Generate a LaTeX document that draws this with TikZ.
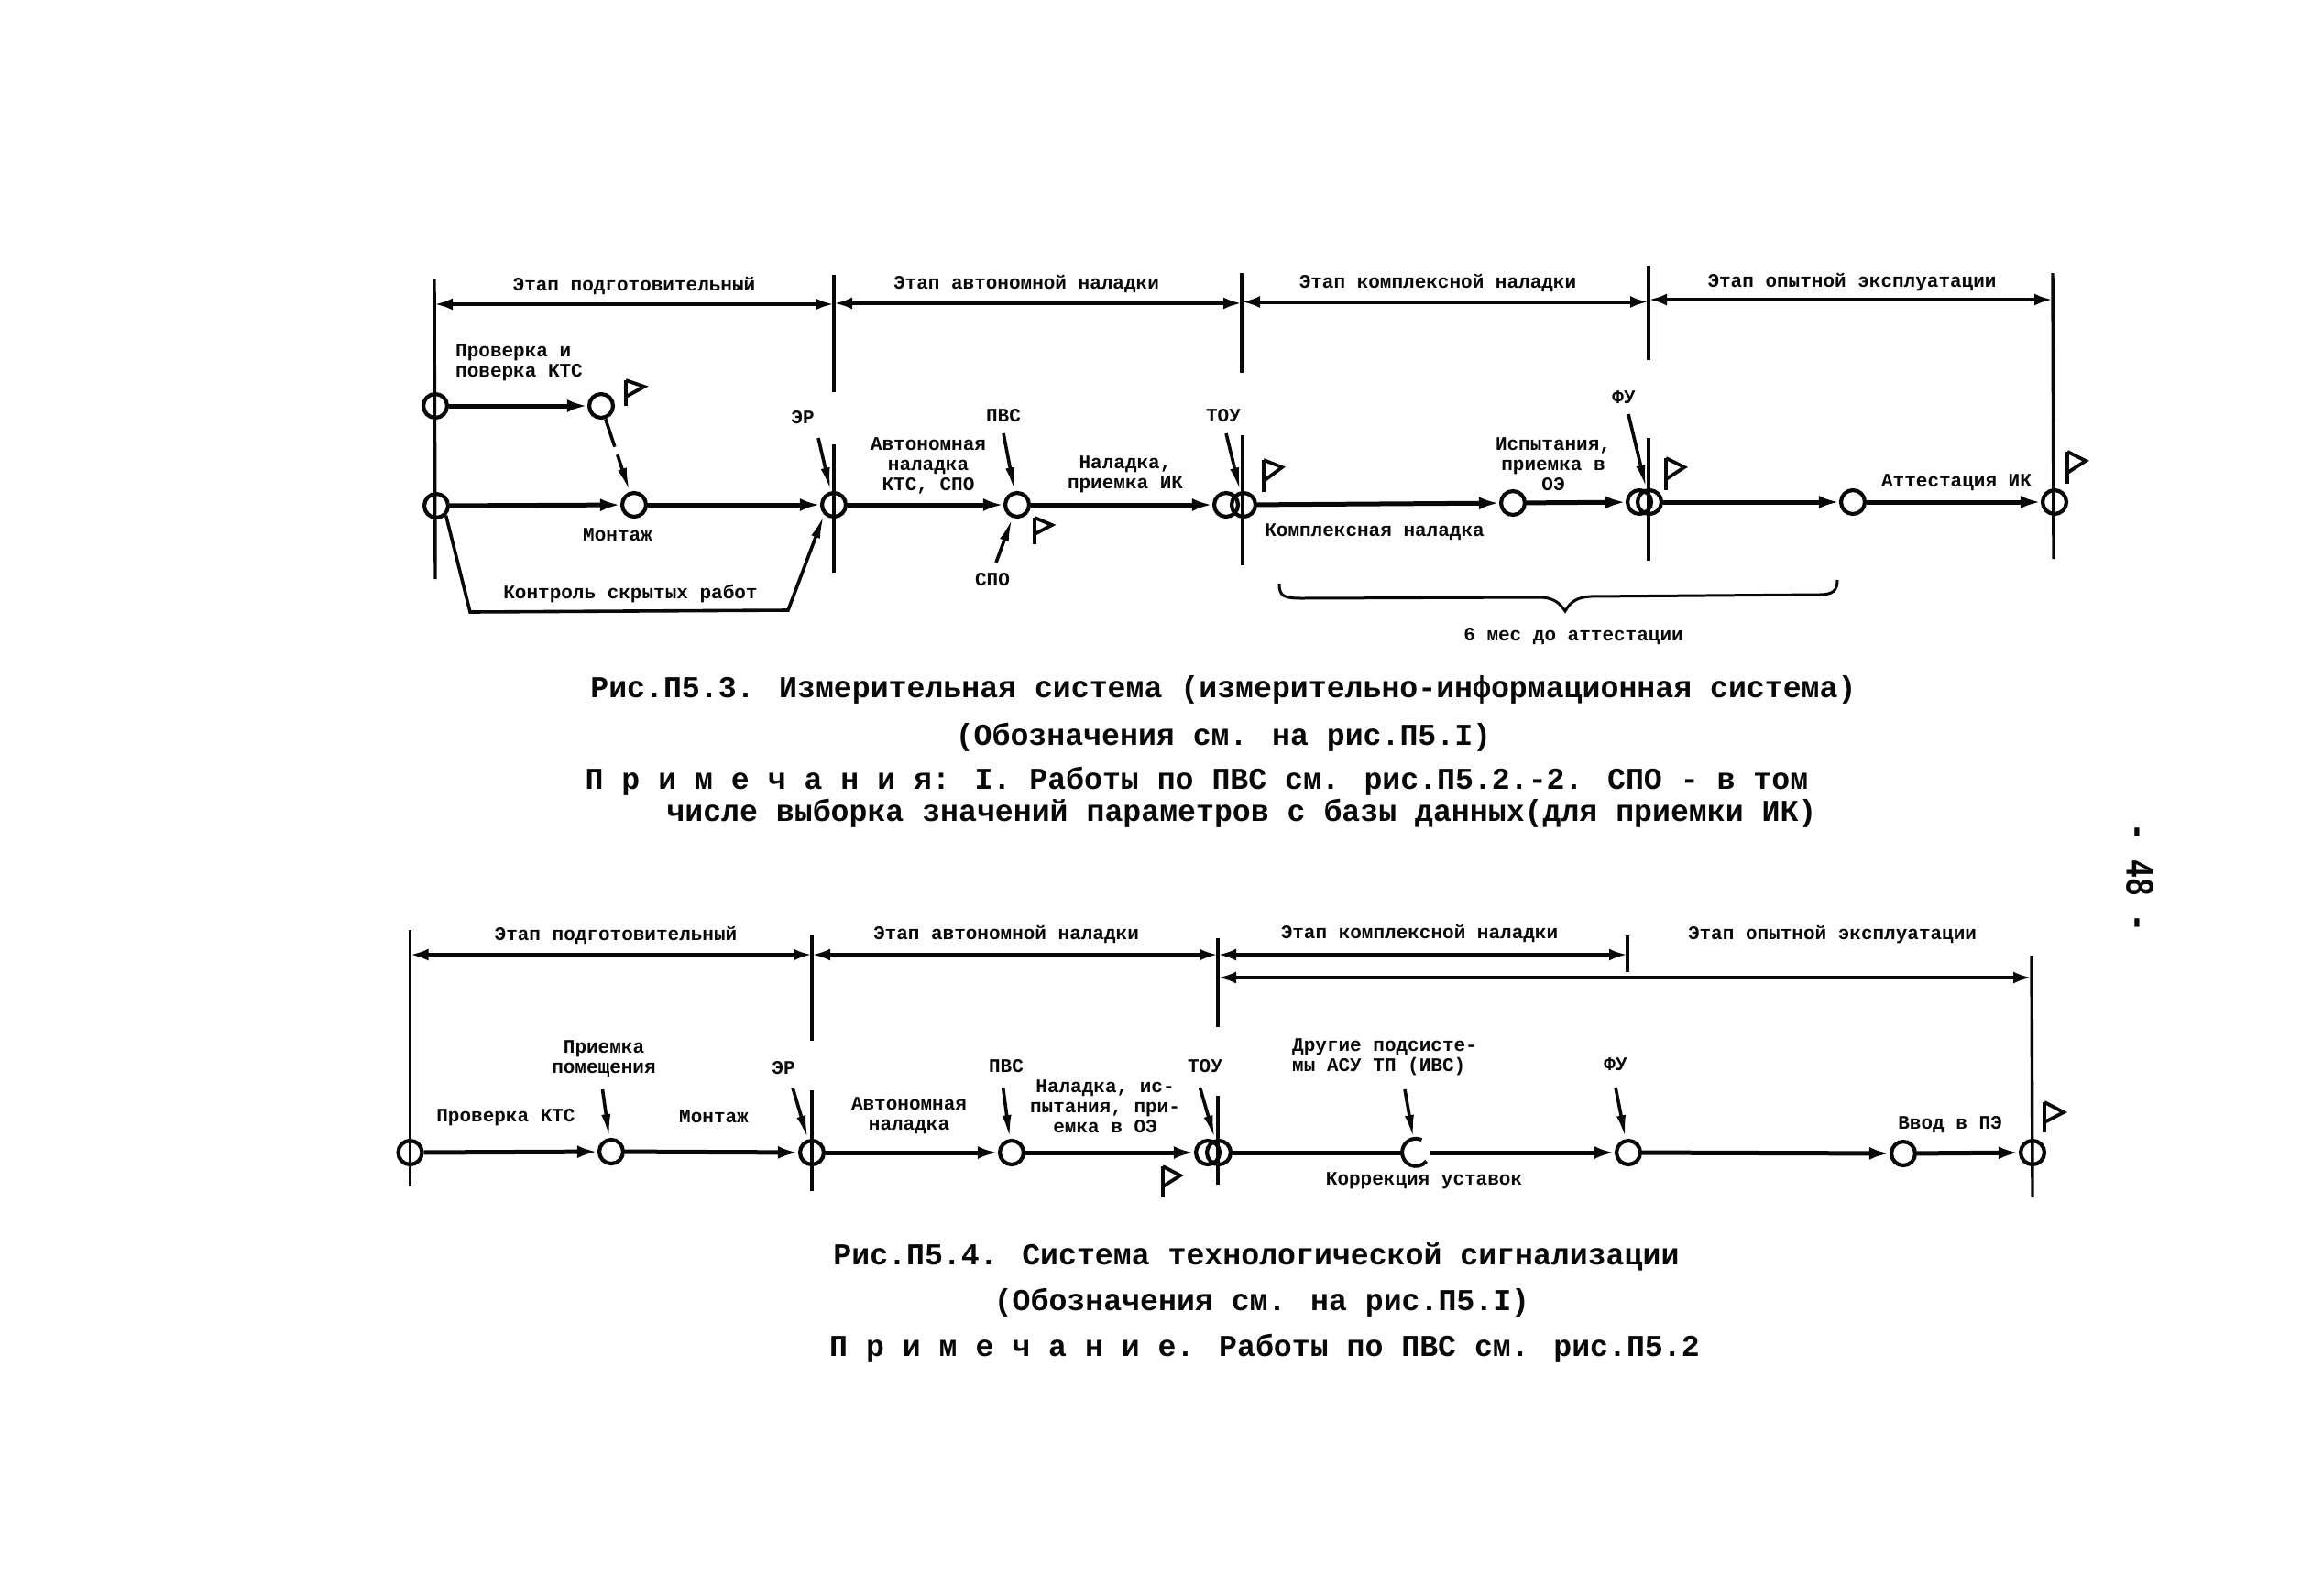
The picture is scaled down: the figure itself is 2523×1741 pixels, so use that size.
\documentclass[tikz,border=0pt]{standalone}
\usepackage{fontspec}
\setmainfont{Liberation Mono}
\usetikzlibrary{arrows.meta}
\definecolor{ink}{gray}{0.03}
\tikzset{
  lab/.style={font=\fontsize{21}{22}\selectfont\bfseries,inner sep=0pt,align=center,text=ink},
  labl/.style={lab,align=left},
  captext/.style={font=\fontsize{33.2}{36}\selectfont\bfseries,inner sep=0pt,text=ink},
  ev/.style={circle,draw=ink,line width=4.2pt,minimum size=26pt,inner sep=0pt},
  tickline/.style={draw=ink,line width=3.4pt},
  spanline/.style={draw=ink,line width=4pt,{Latex[length=20pt,width=13pt]}-{Latex[length=20pt,width=13pt]}},
  flowline/.style={draw=ink,line width=5pt,-{Latex[length=22pt,width=14pt]}},
  plainline/.style={draw=ink,line width=5pt},
  pointer/.style={draw=ink,line width=3.6pt,-{Latex[length=26pt,width=10pt]}},
  flagmark/.style={draw=ink,line width=3.8pt,line join=miter}
}
\begin{document}
\begin{tikzpicture}[x=1pt,y=-1pt]
\path[use as bounding box,fill=white] (0,0) rectangle (2523,1741);
% ---------- Upper diagram: coordinates
\coordinate (a1t) at (474,305); \coordinate (a1b) at (475,632);
\coordinate (a2t) at (910,300); \coordinate (a2m) at (910,428); \coordinate (a2n) at (910,485); \coordinate (a2b) at (910,625);
\coordinate (a3t) at (1355,298); \coordinate (a3m) at (1355,407); \coordinate (a3n) at (1356,475); \coordinate (a3b) at (1356,617);
\coordinate (a4t) at (1799,290); \coordinate (a4m) at (1799,393); \coordinate (a4n) at (1799,478); \coordinate (a4b) at (1799,612);
\coordinate (a5t) at (2240,298); \coordinate (a5b) at (2241,610);
\draw[tickline] (a1t)--(a1b); \draw[tickline] (a2t)--(a2m); \draw[tickline] (a2n)--(a2b);
\draw[tickline] (a3t)--(a3m); \draw[tickline] (a3n)--(a3b);
\draw[tickline] (a4t)--(a4m); \draw[tickline] (a4n)--(a4b); \draw[tickline] (a5t)--(a5b);
\coordinate (s1a) at (474,332); \coordinate (s1b) at (910,332);
\coordinate (s2a) at (910,331); \coordinate (s2b) at (1355,331);
\coordinate (s3a) at (1355,329.5); \coordinate (s3b) at (1799,329.5);
\coordinate (s4a) at (1799,327); \coordinate (s4b) at (2240,327);
\draw[spanline] (s1a)--(s1b); \draw[spanline] (s2a)--(s2b); \draw[spanline] (s3a)--(s3b); \draw[spanline] (s4a)--(s4b);
\node[lab] (t1) at (692,312) {Этап подготовительный};
\node[lab] (t2) at (1120,310) {Этап автономной наладки};
\node[lab] (t3) at (1569,309) {Этап комплексной наладки};
\node[lab] (t4) at (2021,308) {Этап опытной эксплуатации};
% events
\node[ev] (u1) at (475,443) {};
\node[ev] (u2) at (476,552) {};
\node[ev] (u3) at (656,443) {};
\node[ev] (u4) at (692,551) {};
\node[ev] (u5) at (910,551) {};
\node[ev] (u6) at (1110,551) {};
\node[ev] (u7) at (1338,551) {};
\node[ev] (u8) at (1357,551) {};
\node[ev] (u9) at (1651,549) {};
\node[ev] (u10) at (1789,548) {};
\node[ev] (u11) at (1800,548) {};
\node[ev] (u12) at (2022,548) {};
\node[ev] (u13) at (2242,548) {};
\draw[flowline] (u1)--(u3);
\draw[flowline] (u2)--(u4);
\draw[flowline] (u4)--(u5);
\draw[flowline] (u5)--(u6);
\draw[flowline] (u6)--(u7);
\draw[flowline] (u8)--(u9);
\draw[flowline] (u9)--(u10);
\draw[flowline] (u11)--(u12);
\draw[flowline] (u12)--(u13);
\draw[pointer,dash pattern=on 32pt off 9pt] (u3) -- (u4);
\coordinate (ka) at (513,668); \coordinate (kb) at (860,666);
\draw[pointer] (u2.south east) -- (ka) -- (kb) -- (u5.south west);
% pointers
\coordinate (erf) at (893,478); \coordinate (pvf) at (1095,473); \coordinate (spf) at (1087,614);
\coordinate (tof) at (1338,473); \coordinate (fuf) at (1777,452);
\draw[pointer] (erf)--(u5); \draw[pointer] (pvf)--(u6); \draw[pointer] (spf)--(u6);
\draw[pointer] (tof)--(u8); \draw[pointer] (fuf)--(u11);
% flags
\foreach \x/\ya/\yb/\yc/\tx/\ty in {683/415/443/433/703/422,1129/565/594/583/1148/573,1379/502/537/525/1399/510,1818/500/535/523/1838/510,2256/493/528/516/2276/503,1269/1273/1307/1295/1288/1283,2231/1203/1236/1225/2252/1214}{
  \draw[flagmark] (\x,\ya)--(\x,\yb);
  \draw[flagmark] (\x,\ya)--(\tx,\ty)--(\x,\yc);
}
% labels
\node[labl,anchor=west] (l1) at (497,396) {Проверка и\\поверка КТС};
\node[lab] (l2) at (876,456) {ЭР};
\node[lab] (l3) at (1013,508) {Автономная\\наладка\\КТС, СПО};
\node[lab] (l4) at (1095,454) {ПВС};
\node[lab] (l5) at (1228,518) {Наладка,\\приемка ИК};
\node[lab] (l6) at (1335,454) {ТОУ};
\node[lab] (l7) at (674,584) {Монтаж};
\node[lab] (l8) at (1083,633) {СПО};
\node[lab] (l9) at (688,648) {Контроль скрытых работ};
\node[lab] (l10) at (1695,507) {Испытания,\\приемка в\\ОЭ};
\node[lab] (l11) at (1772,434) {ФУ};
\node[lab] (l12) at (1500,581) {Комплексная наладка};
\node[lab] (l13) at (2135,527) {Аттестация ИК};
\node[lab] (l14) at (1717,695) {6 мес до аттестации};
% brace
\coordinate (ba) at (1396,637); \coordinate (bb) at (2005,633); \coordinate (bc) at (1708,667);
\draw[draw=ink,line width=3pt] (ba) .. controls (1396,650) and (1400,653) .. (1420,653) -- (1680,652) .. controls (1695,652) and (1702,658) .. (bc) .. controls (1714,656) and (1722,652) .. (1735,651) -- (1985,649) .. controls (2000,649) and (2005,645) .. (bb);
% captions
\node[captext] (c1) at (1335,753) {Рис.П5.3. Измерительная система (измерительно-информационная система)};
\node[captext] (c2) at (1335,805) {(Обозначения см. на рис.П5.I)};
\node[captext] (c3) at (1306,853) {П р и м е ч а н и я: I. Работы по ПВС см. рис.П5.2.-2. СПО - в том};
\node[captext] (c4) at (1355,888) {числе выборка значений параметров с базы данных(для приемки ИК)};
% ---------- Lower diagram
\coordinate (b1t) at (447.5,1015); \coordinate (b1b) at (447.5,1295);
\coordinate (b2t) at (886,1020); \coordinate (b2m) at (886,1136); \coordinate (b2n) at (886,1190); \coordinate (b2b) at (886,1300);
\coordinate (b3t) at (1329,1024); \coordinate (b3m) at (1329,1121); \coordinate (b3n) at (1329,1196); \coordinate (b3b) at (1329,1293);
\coordinate (b4t) at (1776,1021); \coordinate (b4b) at (1776,1061);
\coordinate (b5t) at (2217,1043); \coordinate (b5b) at (2218,1307);
\draw[tickline] (b1t)--(b1b); \draw[tickline] (b2t)--(b2m); \draw[tickline] (b2n)--(b2b);
\draw[tickline] (b3t)--(b3m); \draw[tickline] (b3n)--(b3b); \draw[tickline] (b4t)--(b4b); \draw[tickline] (b5t)--(b5b);
\coordinate (q1a) at (447.5,1042); \coordinate (q1b) at (886,1042);
\coordinate (q2a) at (886,1042); \coordinate (q2b) at (1329,1042);
\coordinate (q3a) at (1329,1042); \coordinate (q3b) at (1776,1042);
\coordinate (q4a) at (1329,1067); \coordinate (q4b) at (2217,1067);
\draw[spanline] (q1a)--(q1b); \draw[spanline] (q2a)--(q2b); \draw[spanline] (q3a)--(q3b); \draw[spanline] (q4a)--(q4b);
\node[lab] (v1) at (672,1021) {Этап подготовительный};
\node[lab] (v2) at (1098,1020) {Этап автономной наладки};
\node[lab] (v3) at (1549,1019) {Этап комплексной наладки};
\node[lab] (v4) at (1999.5,1020) {Этап опытной эксплуатации};
\node[ev] (w1) at (447.5,1258) {};
\node[ev] (w2) at (667,1257) {};
\node[ev] (w3) at (886,1258) {};
\node[ev] (w4) at (1104,1258) {};
\node[ev] (w5) at (1318,1258) {};
\node[ev] (w6) at (1330,1258) {};
\node[circle,minimum size=30pt,inner sep=0pt] (w7) at (1545,1258) {};
\draw[draw=ink,line width=4pt] (w7.65) arc[start angle=65,end angle=320,radius=15pt];
\node[ev] (w8) at (1777,1258) {};
\node[ev] (w9) at (2077,1259) {};
\node[ev] (w10) at (2218,1258) {};
\draw[flowline] (w1)--(w2); \draw[flowline] (w2)--(w3); \draw[flowline] (w3)--(w4); \draw[flowline] (w4)--(w5);
\draw[plainline] (w6)--(w7.west); \draw[flowline] (w7.east)--(w8); \draw[flowline] (w8)--(w9); \draw[flowline] (w9)--(w10);
\coordinate (f1) at (657.5,1189); \coordinate (f2) at (865,1187); \coordinate (f3) at (1094.6,1187);
\coordinate (f4) at (1309.5,1187); \coordinate (f5) at (1533,1189); \coordinate (f6) at (1763,1187);
\draw[pointer] (f1)--(w2); \draw[pointer] (f2)--(w3); \draw[pointer] (f3)--(w4);
\draw[pointer] (f4)--(w6); \draw[pointer] (f5)--(w7); \draw[pointer] (f6)--(w8);
\node[lab] (x1) at (659,1156) {Приемка\\помещения};
\node[lab] (x2) at (855,1166) {ЭР};
\node[lab] (x3) at (1315,1164) {ТОУ};
\node[lab] (x4) at (1098,1164) {ПВС};
\node[lab] (x5) at (552,1220) {Проверка КТС};
\node[lab] (x6) at (779,1219) {Монтаж};
\node[lab] (x7) at (992,1218) {Автономная\\наладка};
\node[lab] (x8) at (1206,1208) {Наладка, ис-\\пытания, при-\\емка в ОЭ};
\node[labl,anchor=west] (x9) at (1410,1154) {Другие подсисте-\\мы АСУ ТП (ИВС)};
\node[lab] (x10) at (1763,1162) {ФУ};
\node[lab] (x11) at (1554,1289) {Коррекция уставок};
\node[lab] (x12) at (2128,1228) {Ввод в ПЭ};
\node[captext] (d1) at (1371,1372) {Рис.П5.4. Система технологической сигнализации};
\node[captext] (d2) at (1377,1422) {(Обозначения см. на рис.П5.I)};
\node[captext] (d3) at (1380,1472) {П р и м е ч а н и е. Работы по ПВС см. рис.П5.2};
\node[rotate=-90,xscale=.75,inner sep=0pt,text=ink,font=\fontsize{44}{46}\selectfont\bfseries] (pg) at (2335,958) {- 48 -};
\end{tikzpicture}
\end{document}
